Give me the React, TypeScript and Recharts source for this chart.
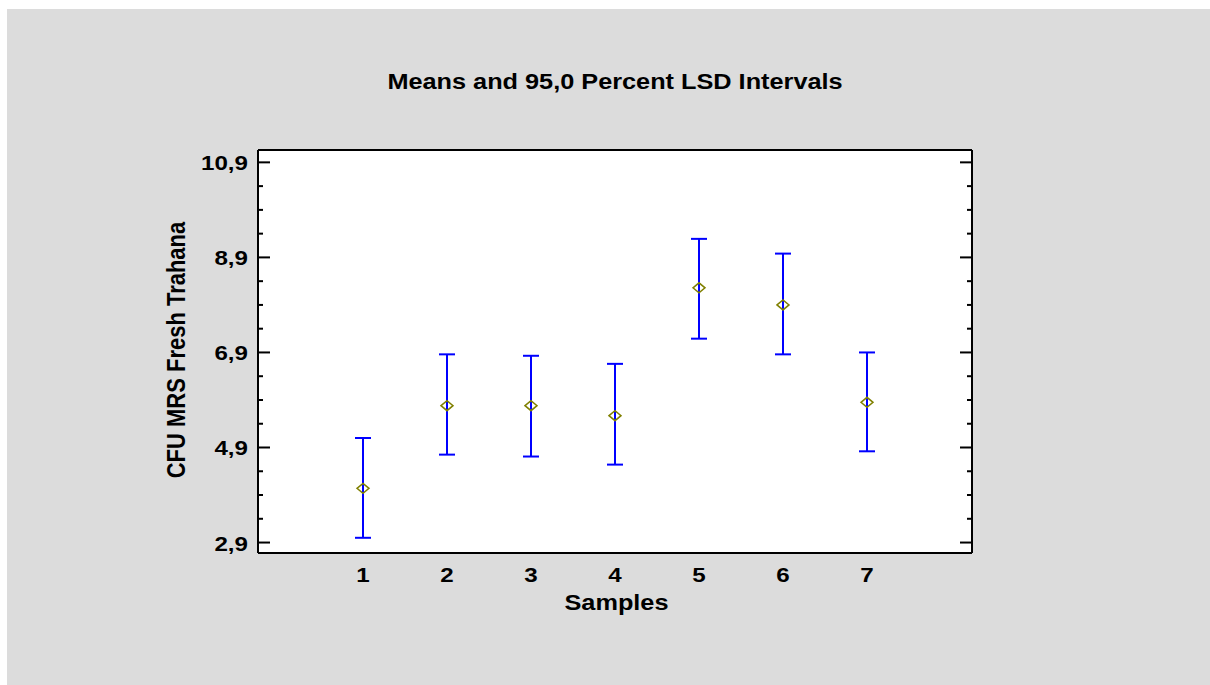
import { ScatterChart, Scatter, XAxis, YAxis, ErrorBar, CartesianGrid } from 'recharts';

// sample means with 95% LSD interval limits
const samples = [1, 2, 3, 4, 5, 6, 7];
const means = [4.04, 5.78, 5.78, 5.57, 8.26, 7.9, 5.85];
const lowerLimits = [3.0, 4.75, 4.71, 4.54, 7.19, 6.86, 4.82];
const upperLimits = [5.1, 6.86, 6.83, 6.66, 9.29, 8.98, 6.9];

const majorTicks = [2.9, 4.9, 6.9, 8.9, 10.9];
const yTicks = [2.9, 3.4, 3.9, 4.4, 4.9, 5.4, 5.9, 6.4, 6.9, 7.4, 7.9, 8.4, 8.9, 9.4, 9.9, 10.4, 10.9];
const xTicks = [1, 2, 3, 4, 5, 6, 7];

const W = 1203;
const H = 676;
const FONT = '"Liberation Sans", Arial, sans-serif';
const STRETCH = 1.15;
const Y_DOMAIN = [2.68, 11.16];
const X_DOMAIN = [-0.25, 8.25];

const data = samples.map((s, i) => ({
  sample: s,
  mean: means[i],
  err: [means[i] - lowerLimits[i], upperLimits[i] - means[i]],
}));

const fmt = (v: number) => v.toFixed(1).replace('.', ',');

const LeftTick = ({ x, y, payload }: any) => {
  const major = majorTicks.includes(payload.value);
  return (
    <g>
      <line x1={x} y1={y} x2={x + (major ? 12 : 5)} y2={y} stroke="#000" strokeWidth={2} />
      {major && (
        <text
          transform={`translate(${x - 10},${y + 8}) scale(${STRETCH},1)`}
          textAnchor="end"
          fontFamily={FONT}
          fontWeight="bold"
          fontSize={21}
          fill="#000"
        >
          {fmt(payload.value)}
        </text>
      )}
    </g>
  );
};

const RightTick = ({ x, y, payload }: any) => {
  const major = majorTicks.includes(payload.value);
  return <line x1={x} y1={y} x2={x - (major ? 12 : 5)} y2={y} stroke="#000" strokeWidth={2} />;
};

const BottomTick = ({ x, y, payload }: any) => (
  <text
    transform={`translate(${x},${y + 29}) scale(${STRETCH},1)`}
    textAnchor="middle"
    fontFamily={FONT}
    fontWeight="bold"
    fontSize={21}
    fill="#000"
  >
    {payload.value}
  </text>
);

const Diamond = ({ cx, cy }: any) => (
  <path
    d={`M${cx - 6},${cy} L${cx},${cy - 5} L${cx + 6},${cy} L${cx},${cy + 5} Z`}
    fill="none"
    stroke="#808000"
    strokeWidth={1.5}
  />
);

const Nothing = () => <g />;

export default function App() {
  return (
    <div style={{ position: 'absolute', left: 7, top: 9, width: W, height: H, background: '#dcdcdc' }}>
      <ScatterChart width={W} height={H} margin={{ top: 140, right: 228, bottom: 92, left: 191 }}>
        <CartesianGrid fill="#fff" horizontal={false} vertical={false} />
        <XAxis
          type="number"
          dataKey="sample"
          domain={X_DOMAIN}
          ticks={xTicks}
          height={40}
          tickLine={false}
          tickSize={0}
          tickMargin={0}
          axisLine={{ stroke: '#000', strokeWidth: 2 }}
          tick={<BottomTick />}
        />
        <XAxis
          xAxisId="top"
          orientation="top"
          type="number"
          dataKey="sample"
          domain={X_DOMAIN}
          ticks={xTicks}
          height={1}
          tick={false}
          tickLine={false}
          axisLine={{ stroke: '#000', strokeWidth: 2 }}
        />
        <YAxis
          type="number"
          dataKey="mean"
          domain={Y_DOMAIN}
          ticks={yTicks}
          width={60}
          tickLine={false}
          tickSize={0}
          tickMargin={0}
          axisLine={{ stroke: '#000', strokeWidth: 2 }}
          tick={<LeftTick />}
        />
        <YAxis
          yAxisId="right"
          orientation="right"
          type="number"
          dataKey="mean"
          domain={Y_DOMAIN}
          ticks={yTicks}
          width={10}
          tickLine={false}
          tickSize={0}
          tickMargin={0}
          axisLine={{ stroke: '#000', strokeWidth: 2 }}
          tick={<RightTick />}
        />
        {/* invisible series so the top and right frame axes are used */}
        <Scatter data={data} xAxisId="top" yAxisId="right" shape={<Nothing />} isAnimationActive={false} />
        <Scatter data={data} shape={<Diamond />} isAnimationActive={false}>
          <ErrorBar dataKey="err" direction="y" width={8} stroke="#0000ff" strokeWidth={2} isAnimationActive={false} />
        </Scatter>
      </ScatterChart>
      <svg width={W} height={H} style={{ position: 'absolute', left: 0, top: 0, pointerEvents: 'none' }}>
        <text
          transform={`translate(608,80) scale(${STRETCH},1)`}
          textAnchor="middle"
          fontFamily={FONT}
          fontWeight="bold"
          fontSize={22}
          fill="#000"
        >
          Means and 95,0 Percent LSD Intervals
        </text>
        <text
          transform={`translate(609.5,601) scale(${STRETCH},1)`}
          textAnchor="middle"
          fontFamily={FONT}
          fontWeight="bold"
          fontSize={22}
          fill="#000"
        >
          Samples
        </text>
        <text
          transform={`translate(178,341) scale(${STRETCH},1) rotate(-90)`}
          textAnchor="middle"
          fontFamily={FONT}
          fontWeight="bold"
          fontSize={22}
          fill="#000"
        >
          CFU MRS Fresh Trahana
        </text>
      </svg>
    </div>
  );
}
